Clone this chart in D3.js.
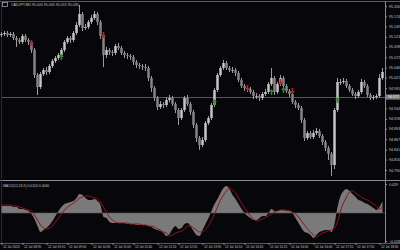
<!DOCTYPE html>
<html>
<head>
<meta charset="utf-8">
<script src="https://cdn.jsdelivr.net/npm/d3@7"></script>
<style>
  html, body { margin: 0; padding: 0; background: #07070b; }
  svg { display: block; }
  text { font-family: "Liberation Sans", Arial, sans-serif; }
</style>
</head>
<body>
<div id="chart"></div>
<script>
// price bars (M5)
var open0 = 95.1275;
var close = [95.130, 95.1325, 95.1275, 95.130, 95.120, 95.115, 95.110, 95.125, 95.115, 95.110,
  95.090, 95.0275, 94.9975, 95.030, 95.040, 95.035, 95.050, 95.0625, 95.070, 95.0775,
  95.090, 95.110, 95.120, 95.115, 95.1325, 95.1525, 95.180, 95.145, 95.1475, 95.160,
  95.170, 95.180, 95.160, 95.125, 95.0775, 95.090, 95.085, 95.0825, 95.100, 95.095,
  95.0825, 95.0775, 95.075, 95.0725, 95.060, 95.0525, 95.050, 95.0475, 95.045, 95.020,
  94.995, 94.970, 94.9475, 94.955, 94.9525, 94.965, 94.970, 94.955, 94.940, 94.920,
  94.940, 94.970, 94.955, 94.935, 94.9025, 94.870, 94.8525, 94.865, 94.9075, 94.920,
  94.9525, 94.990, 95.0275, 95.045, 95.0575, 95.045, 95.040, 95.040, 95.0325, 95.015,
  95.000, 94.995, 94.9925, 94.985, 94.975, 94.975, 94.970, 94.980, 94.985, 95.005,
  95.020, 94.985, 95.005, 95.020, 95.000, 94.9875, 94.980, 94.960, 94.9525, 94.945,
  94.915, 94.870, 94.8825, 94.8725, 94.8825, 94.8875, 94.875, 94.860, 94.845, 94.830,
  94.8025, 94.940, 95.010, 95.010, 95.0125, 95.000, 94.990, 94.980, 94.975, 94.985,
  95.010, 95.000, 94.9775, 94.970, 94.9725, 94.975, 95.020, 95.035];
var high = [95.135, 95.1375, 95.1375, 95.135, 95.135, 95.125, 95.120, 95.130, 95.130, 95.120,
  95.115, 95.095, 95.0325, 95.035, 95.045, 95.0475, 95.055, 95.0675, 95.075, 95.0825,
  95.095, 95.115, 95.125, 95.125, 95.1375, 95.160, 95.2025, 95.185, 95.155, 95.165,
  95.1775, 95.1875, 95.185, 95.165, 95.130, 95.0975, 95.095, 95.090, 95.105, 95.1075,
  95.100, 95.0875, 95.0825, 95.080, 95.0775, 95.065, 95.0575, 95.055, 95.055, 95.050,
  95.025, 95.000, 94.975, 94.9625, 94.960, 94.9725, 94.9775, 94.975, 94.960, 94.945,
  94.945, 94.975, 94.9775, 94.960, 94.940, 94.9075, 94.875, 94.8725, 94.9125, 94.925,
  94.9575, 94.995, 95.0325, 95.050, 95.065, 95.0625, 95.050, 95.0475, 95.045, 95.0375,
  95.020, 95.005, 95.000, 94.9975, 94.990, 94.9825, 94.980, 94.985, 94.9925, 95.010,
  95.045, 95.025, 95.010, 95.0275, 95.025, 95.005, 94.9925, 94.985, 94.965, 94.9575,
  94.950, 94.920, 94.8875, 94.8875, 94.890, 94.895, 94.8925, 94.880, 94.865, 94.850,
  94.835, 94.945, 95.020, 95.0175, 95.020, 95.0175, 95.005, 94.995, 94.985, 94.990,
  95.0175, 95.015, 95.005, 94.9825, 94.9775, 94.980, 95.030, 95.045];
var low = [95.1225, 95.125, 95.1225, 95.1225, 95.115, 95.0975, 95.105, 95.105, 95.110, 95.1025,
  95.0825, 95.020, 94.9775, 94.9925, 95.025, 95.0275, 95.030, 95.045, 95.0575, 95.065,
  95.0725, 95.085, 95.105, 95.1075, 95.110, 95.1275, 95.1475, 95.1375, 95.140, 95.1425,
  95.155, 95.165, 95.1525, 95.1175, 95.0475, 95.070, 95.0775, 95.075, 95.0775, 95.090,
  95.0775, 95.070, 95.0675, 95.065, 95.0525, 95.045, 95.0425, 95.040, 95.0375, 95.0125,
  94.985, 94.9625, 94.940, 94.9425, 94.945, 94.9475, 94.960, 94.950, 94.9325, 94.9025,
  94.915, 94.935, 94.950, 94.9275, 94.895, 94.860, 94.840, 94.8475, 94.860, 94.9025,
  94.915, 94.9475, 94.985, 95.0225, 95.040, 95.040, 95.035, 95.0325, 95.025, 95.010,
  94.995, 94.9875, 94.985, 94.980, 94.9675, 94.9675, 94.9625, 94.965, 94.975, 94.980,
  95.000, 94.9775, 94.980, 95.000, 94.995, 94.9825, 94.9725, 94.955, 94.945, 94.940,
  94.9075, 94.8625, 94.865, 94.8675, 94.8675, 94.8775, 94.870, 94.8525, 94.8375, 94.815,
  94.775, 94.7925, 94.935, 95.0025, 95.005, 94.995, 94.985, 94.975, 94.9675, 94.970,
  94.980, 94.995, 94.9725, 94.965, 94.965, 94.9675, 94.970, 95.015];

// MACD histogram and signal line
var hist = [0.007, 0.007, 0.007, 0.007, 0.006, 0.006, 0.004, 0.004, 0.003, 0.002,
  -0.001, -0.006, -0.013, -0.019, -0.017, -0.015, -0.012, -0.008, -0.003, 0.002,
  0.006, 0.009, 0.010, 0.011, 0.012, 0.015, 0.019, 0.018, 0.015, 0.013,
  0.013, 0.014, 0.012, 0.008, -0.004, -0.005, -0.009, -0.010, -0.010, -0.010,
  -0.010, -0.010, -0.011, -0.011, -0.011, -0.012, -0.012, -0.012, -0.012, -0.013,
  -0.014, -0.016, -0.017, -0.018, -0.020, -0.023, -0.021, -0.016, -0.013, -0.016,
  -0.015, -0.011, -0.010, -0.013, -0.018, -0.022, -0.023, -0.017, -0.011, -0.005,
  0.002, 0.009, 0.014, 0.020, 0.025, 0.027, 0.024, 0.018, 0.014, 0.009,
  0.004, 0.000, -0.003, -0.005, -0.007, -0.007, -0.005, -0.003, -0.003, 0.000,
  0.004, 0.002, 0.002, 0.003, 0.003, 0.002, 0.002, 0.000, -0.005, -0.010,
  -0.015, -0.019, -0.020, -0.022, -0.025, -0.022, -0.019, -0.018, -0.017, -0.017,
  -0.019, -0.011, 0.006, 0.017, 0.022, 0.024, 0.022, 0.019, 0.016, 0.013,
  0.012, 0.010, 0.009, 0.007, 0.005, 0.003, 0.006, 0.012];
var signal = [0.008, 0.008, 0.008, 0.008, 0.007, 0.007, 0.006, 0.005, 0.004, 0.003,
  0.002, -0.002, -0.007, -0.012, -0.015, -0.016, -0.015, -0.013, -0.009, -0.005,
  -0.001, 0.003, 0.006, 0.008, 0.010, 0.012, 0.015, 0.016, 0.017, 0.017,
  0.016, 0.015, 0.014, 0.011, 0.006, 0.001, -0.004, -0.007, -0.009, -0.010,
  -0.010, -0.010, -0.010, -0.011, -0.011, -0.011, -0.011, -0.012, -0.012, -0.013,
  -0.013, -0.014, -0.016, -0.017, -0.019, -0.020, -0.023, -0.022, -0.020, -0.019,
  -0.018, -0.016, -0.013, -0.013, -0.015, -0.017, -0.019, -0.019, -0.016, -0.013,
  -0.007, -0.001, 0.006, 0.013, 0.018, 0.022, 0.025, 0.023, 0.020, 0.015,
  0.010, 0.005, 0.001, -0.003, -0.006, -0.008, -0.007, -0.006, -0.004, -0.003,
  -0.001, 0.001, 0.002, 0.003, 0.003, 0.003, 0.002, 0.001, -0.001, -0.004,
  -0.008, -0.012, -0.016, -0.019, -0.022, -0.024, -0.022, -0.020, -0.019, -0.018,
  -0.017, -0.015, -0.009, 0.002, 0.010, 0.016, 0.021, 0.022, 0.020, 0.018,
  0.016, 0.014, 0.013, 0.011, 0.009, 0.007, 0.004, 0.006];

// signal arrows
var sellIdx = [10, 34, 82, 93, 97];
var sellPrice = [95.1075, 95.1275, 94.995, 95.010, 94.9875];
var buyIdx = [20, 71, 90, 94, 112];
var buyPrice = [95.0725, 94.960, 94.985, 94.990, 94.965];

// axis labels
var priceTicks = [95.200, 95.174, 95.149, 95.123, 95.098, 95.072, 95.046, 95.021, 94.995,
  94.944, 94.918, 94.893, 94.867, 94.841, 94.816, 94.790];
var bidPrice = 94.9725;
var macdTicks = [0.029, -0.028];
var timeIdx = [0, 7, 15, 22, 30, 37, 44, 52, 59, 67, 74, 81, 89, 96, 104, 111, 118, 126];
var timeLabels = ['12 Jul 2013', '12 Jul 08:35', '12 Jul 09:15', '12 Jul 09:50', '12 Jul 10:30',
  '12 Jul 11:05', '12 Jul 11:40', '12 Jul 12:20', '12 Jul 12:55', '12 Jul 13:35', '12 Jul 14:10',
  '12 Jul 14:45', '12 Jul 15:25', '12 Jul 16:00', '12 Jul 16:40', '12 Jul 17:15', '12 Jul 17:50',
  '12 Jul 18:30'];

var W = 400, H = 250;
var axisX = 385; // price axis line
var mainTop = 1, mainBottom = 180, subTop = 181, subBottom = 243;
var frame = '#8a8a8a', labelCol = '#c4c4c4';

var svg = d3.select('#chart').append('svg')
  .attr('width', W)
  .attr('height', H);

svg.append('rect').attr('width', W).attr('height', H).attr('fill', '#07070b');

var x = d3.scaleLinear().domain([0, close.length - 1]).range([1.5, 382.5]);
var y = d3.scaleLinear().domain([95.200, 94.790]).range([6, 170]);
var yi = d3.scaleLinear().domain([0.031, -0.031]).range([182, 244]);

var opens = [open0].concat(close.slice(0, -1));
var bars = close.map(function(c, i) {
  return { i: i, o: opens[i], h: high[i], l: low[i], c: c };
});

// frame lines
var g = svg.append('g').attr('shape-rendering', 'crispEdges');
g.append('line').attr('x1', 0).attr('x2', W).attr('y1', mainTop + 0.5).attr('y2', mainTop + 0.5).attr('stroke', '#5a5a5a');
g.append('line').attr('x1', 0).attr('x2', W).attr('y1', mainBottom + 0.5).attr('y2', mainBottom + 0.5).attr('stroke', frame);
g.append('line').attr('x1', 0).attr('x2', W).attr('y1', subBottom + 0.5).attr('y2', subBottom + 0.5).attr('stroke', '#5a5a5a');
g.append('line').attr('x1', axisX + 0.5).attr('x2', axisX + 0.5).attr('y1', mainTop).attr('y2', subBottom).attr('stroke', frame);
g.append('line').attr('x1', 1.5).attr('x2', 1.5).attr('y1', mainTop).attr('y2', subBottom).attr('stroke', '#2a2a2e');

// bid line
g.append('line')
  .attr('x1', 2).attr('x2', axisX)
  .attr('y1', Math.round(y(bidPrice)) + 0.5).attr('y2', Math.round(y(bidPrice)) + 0.5)
  .attr('stroke', '#56565a');

// candles
var cg = svg.append('g').attr('class', 'candles');
cg.selectAll('line.wick').data(bars).enter().append('line')
  .attr('class', 'wick')
  .attr('x1', function(d) { return x(d.i); })
  .attr('x2', function(d) { return x(d.i); })
  .attr('y1', function(d) { return y(d.h); })
  .attr('y2', function(d) { return y(d.l); })
  .attr('stroke', '#9c9c9c')
  .attr('stroke-width', 1);
cg.selectAll('rect.body').data(bars).enter().append('rect')
  .attr('class', 'body')
  .attr('x', function(d) { return x(d.i) - 1.25; })
  .attr('width', 2.5)
  .attr('y', function(d) { return y(Math.max(d.o, d.c)); })
  .attr('height', function(d) { return Math.max(0.8, Math.abs(y(d.o) - y(d.c))); })
  .attr('fill', function(d) { return d.c >= d.o ? '#c6c6c6' : '#858585'; });

// arrows
function arrowPath(cx, cy, dir) {
  // dir 1 = down, -1 = up
  var s = dir;
  return 'M' + (cx - 0.8) + ',' + (cy - 3 * s) +
    'L' + (cx + 0.8) + ',' + (cy - 3 * s) +
    'L' + (cx + 0.8) + ',' + (cy) +
    'L' + (cx + 2.5) + ',' + (cy) +
    'L' + cx + ',' + (cy + 3 * s) +
    'L' + (cx - 2.5) + ',' + (cy) +
    'L' + (cx - 0.8) + ',' + (cy) + 'Z';
}
var ag = svg.append('g').attr('class', 'arrows');
ag.selectAll('path.sell').data(sellIdx).enter().append('path')
  .attr('class', 'sell')
  .attr('d', function(d, k) { return arrowPath(x(d), y(sellPrice[k]), 1); })
  .attr('fill', '#b32828');
ag.selectAll('path.buy').data(buyIdx).enter().append('path')
  .attr('class', 'buy')
  .attr('d', function(d, k) { return arrowPath(x(d), y(buyPrice[k]), -1); })
  .attr('fill', '#2b8a2b');

// MACD histogram, drawn as a filled band from zero
var ig = svg.append('g').attr('class', 'macd');
ig.append('path')
  .datum(hist)
  .attr('d', d3.area()
    .x(function(d, i) { return x(i); })
    .y0(yi(0))
    .y1(function(d) { return yi(d); })
    .curve(d3.curveMonotoneX))
  .attr('fill', '#7a7a7a');
ig.append('line')
  .attr('x1', 2).attr('x2', axisX)
  .attr('y1', yi(0)).attr('y2', yi(0))
  .attr('stroke', '#5c5c5c').attr('stroke-width', 0.6);
ig.append('path')
  .datum(signal)
  .attr('d', d3.line().x(function(d, i) { return x(i); }).y(function(d) { return yi(d); })
    .curve(d3.curveMonotoneX))
  .attr('fill', 'none')
  .attr('stroke', '#8e1518')
  .attr('stroke-width', 1);

// price axis
var pa = svg.append('g')
  .attr('transform', 'translate(' + axisX + ',0)')
  .call(d3.axisRight(y).tickValues(priceTicks).tickSize(2).tickPadding(2).tickFormat(d3.format('.3f')));
pa.select('.domain').remove();
pa.selectAll('line').attr('stroke', frame);
pa.selectAll('text').attr('fill', labelCol).style('font-size', '3.6px');

// bid label
var by = y(bidPrice);
svg.append('rect').attr('x', axisX + 1).attr('y', by - 2.6).attr('width', 14).attr('height', 5.2).attr('fill', '#7a7a7a');
svg.append('text').attr('x', axisX + 3).attr('y', by + 1.3).attr('fill', '#f2f2f2')
  .style('font-size', '3.6px').text(d3.format('.3f')(bidPrice));

// MACD axis
var ma = svg.append('g')
  .attr('transform', 'translate(' + axisX + ',0)')
  .call(d3.axisRight(yi).tickValues(macdTicks).tickSize(2).tickPadding(2).tickFormat(d3.format('.3f')));
ma.select('.domain').remove();
ma.selectAll('line').attr('stroke', frame);
ma.selectAll('text').attr('fill', labelCol).style('font-size', '3.6px');

// time axis
var ta = svg.append('g')
  .attr('transform', 'translate(0,' + subBottom + ')')
  .call(d3.axisBottom(x).tickValues(timeIdx).tickSize(2).tickPadding(1)
    .tickFormat(function(d, k) { return timeLabels[k]; }));
ta.select('.domain').remove();
ta.selectAll('line').attr('stroke', frame);
ta.selectAll('text').attr('fill', labelCol).attr('text-anchor', 'start').attr('dx', 1)
  .style('font-size', '3.2px');

// headers
svg.append('rect').attr('x', 2.5).attr('y', 2.5).attr('width', 5).attr('height', 4)
  .attr('fill', 'none').attr('stroke', '#9aa0b0').attr('stroke-width', 0.8);
var last = bars[bars.length - 1];
var f3 = d3.format('.3f');
svg.append('text').attr('x', 11).attr('y', 6).attr('fill', labelCol).style('font-size', '3.6px')
  .text('CADJPY,M5  ' + f3(last.o) + ' ' + f3(last.h) + ' ' + f3(last.l) + ' ' + f3(last.c));
svg.append('text').attr('x', 3).attr('y', 186.5).attr('fill', labelCol).style('font-size', '3.4px')
  .text('MACD(12,26,9) ' + d3.format('.4f')(hist[hist.length - 1]) + ' ' + d3.format('.4f')(signal[signal.length - 1]));
</script>
</body>
</html>
